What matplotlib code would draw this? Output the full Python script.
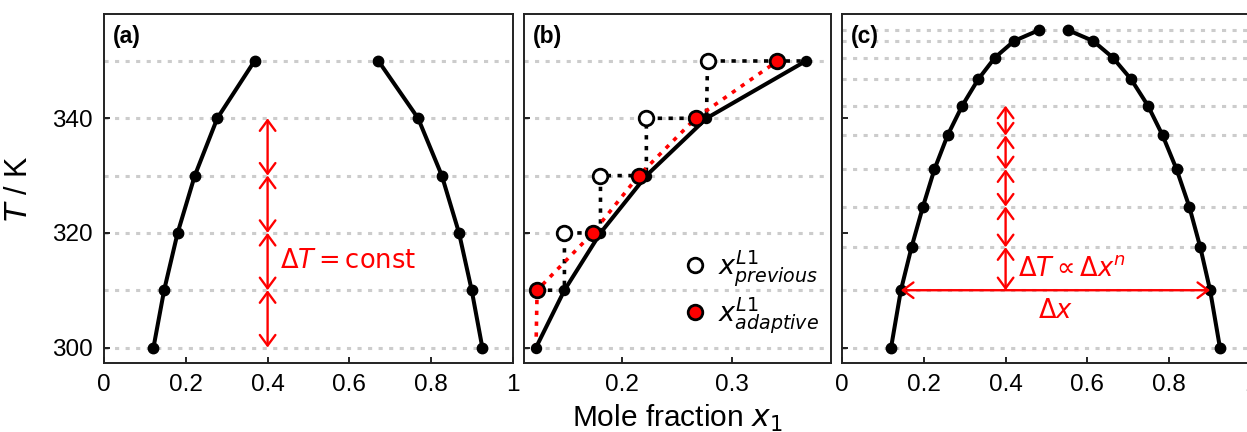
import matplotlib
matplotlib.use('Agg')
import matplotlib.pyplot as plt

plt.rcParams['font.family'] = ['Liberation Sans', 'DejaVu Sans']
plt.rcParams['mathtext.fontset'] = 'dejavusans'

# (a) equidistant temperatures
T_const = [300, 310, 320, 330, 340, 350]
x_left_a = [0.121, 0.147, 0.180, 0.222, 0.277, 0.368]
x_right_a = [0.925, 0.899, 0.868, 0.826, 0.768, 0.671]

# (b) zoom on the left branch
T_prev = [320, 330, 340, 350]
x_prev_b = [0.147, 0.180, 0.222, 0.278]
T_adapt_b = [310, 320, 330, 340, 350]
x_adapt_b = [0.122, 0.173, 0.215, 0.267, 0.342]

# (c) adaptive temperature steps
T_adapt = [300.0, 310.0, 317.5, 324.6, 331.1, 337.0, 342.2, 346.8, 350.6, 353.5, 355.4]
x_left_c = [0.120, 0.144, 0.170, 0.198, 0.226, 0.258, 0.294, 0.333, 0.374, 0.421, 0.482]
x_right_c = [0.924, 0.900, 0.876, 0.849, 0.818, 0.784, 0.748, 0.707, 0.662, 0.614, 0.552]

x_ticks = [0, 0.2, 0.4, 0.6, 0.8, 1]
x_ticklabels = ['0', '0.2', '0.4', '0.6', '0.8', '1']
T_ticks = [300, 320, 340]

W, H = 1247, 432
fig = plt.figure(figsize=(W / 100, H / 100), dpi=100)
top, bot = 14, 363


def box(l, r):
    return [l / W, 1 - bot / H, (r - l) / W, (bot - top) / H]


ax_a = fig.add_axes(box(104, 513))
ax_b = fig.add_axes(box(524, 831))
ax_c = fig.add_axes(box(842, 1251))

ylim = (297.3, 358.2)
dots = (1.35, 2.1)
grid_kw = dict(color='#cccccc', lw=2.2, dashes=dots, zorder=0)
line_kw = dict(color='black', lw=2.9, marker='o', ms=7.5, zorder=3)
red = '#ff0000'


def dbl_arrow(ax, p0, p1):
    ax.annotate('', xy=p1, xytext=p0,
                arrowprops=dict(arrowstyle='<->,head_length=0.38,head_width=0.28',
                                color=red, lw=1.7, shrinkA=0, shrinkB=0,
                                mutation_scale=20), zorder=4)


for ax, lab in zip([ax_a, ax_b, ax_c], ['(a)', '(b)', '(c)']):
    ax.set_ylim(*ylim)
    ax.set_yticks(T_ticks)
    ax.tick_params(direction='in', length=4, width=1.2, labelsize=17.5, pad=8)
    for s in ax.spines.values():
        s.set_linewidth(1.4)
        s.set_color('#222222')
    ax.annotate(lab, xy=(0, 1), xycoords='axes fraction', xytext=(6.5, -16),
                textcoords='offset points', ha='left', va='center',
                fontsize=16.5, fontweight='bold')

# panel (a)
for t in T_const:
    ax_a.axhline(t, **grid_kw)
ax_a.plot(x_left_a, T_const, **line_kw)
ax_a.plot(x_right_a, T_const, **line_kw)
for i in range(len(T_const) - 2):
    dbl_arrow(ax_a, (0.4, T_const[i]), (0.4, T_const[i + 1]))
ax_a.text(0.43, 315.1, r'$\Delta T = \mathrm{const}$', color=red, fontsize=18.5,
          ha='left', va='center')
ax_a.set_xlim(0, 1)
ax_a.set_xticks(x_ticks)
ax_a.set_xticklabels(x_ticklabels)
ax_a.set_ylabel(r'$T$ / K', fontsize=22)
ax_a.yaxis.set_label_coords(-0.17, 0.5)

# panel (b)
for t in T_const:
    ax_b.axhline(t, **grid_kw)
stair_x, stair_T = [], []
prev = [x_adapt_b[0]] + x_prev_b
for k in range(1, len(T_const)):
    stair_x += [prev[k - 1], x_left_a[k]]
    stair_T += [T_const[k], T_const[k]]
ax_b.plot(stair_x, stair_T, color='black', lw=2.6, dashes=(1.2, 1.8), zorder=1)
ax_b.plot([x_left_a[0]] + x_adapt_b, T_const, color=red, lw=2.6,
          dashes=(1.2, 1.8), zorder=2)
ax_b.plot(x_left_a, T_const, color='black', lw=2.9, marker='o', ms=7.2, zorder=3)
ax_b.plot(x_prev_b, T_prev, ls='none', marker='o', ms=10.5, mfc='white',
          mec='black', mew=2.0, zorder=4, label=r'$x^{L1}_{previous}$')
ax_b.plot(x_adapt_b, T_adapt_b, ls='none', marker='o', ms=10.5, mfc=red,
          mec='black', mew=2.0, zorder=5, label=r'$x^{L1}_{adaptive}$')
ax_b.set_xlim(0.110, 0.391)
ax_b.set_xticks([0.2, 0.3])
ax_b.set_xticklabels(['0.2', '0.3'])
ax_b.set_yticklabels([])
ax_b.set_xlabel(r'Mole fraction $x_1$', fontsize=21.5, labelpad=5)
ax_b.legend(loc='lower right', bbox_to_anchor=(1.015, 0.035), frameon=False,
            fontsize=19.5, handletextpad=0.35, labelspacing=0.25, handlelength=1.0,
            borderaxespad=0.2)

# panel (c)
for t in T_adapt:
    ax_c.axhline(t, **grid_kw)
ax_c.plot(x_left_c, T_adapt, **line_kw)
ax_c.plot(x_right_c, T_adapt, **line_kw)
for i in range(1, 6):
    dbl_arrow(ax_c, (0.4, T_adapt[i]), (0.4, T_adapt[i + 1]))
dbl_arrow(ax_c, (x_left_c[1], T_adapt[1]), (x_right_c[1], T_adapt[1]))
ax_c.text(0.431, 313.8, r'$\Delta T \propto \Delta x^n$', color=red, fontsize=18.5,
          ha='left', va='center')
ax_c.text((x_left_c[1] + x_right_c[1]) / 2, 306.3, r'$\Delta x$', color=red,
          fontsize=18.5, ha='center', va='center')
ax_c.set_xlim(0, 1)
ax_c.set_xticks(x_ticks)
ax_c.set_xticklabels(x_ticklabels)
ax_c.set_yticklabels([])

fig.savefig('out.png', dpi=100)
